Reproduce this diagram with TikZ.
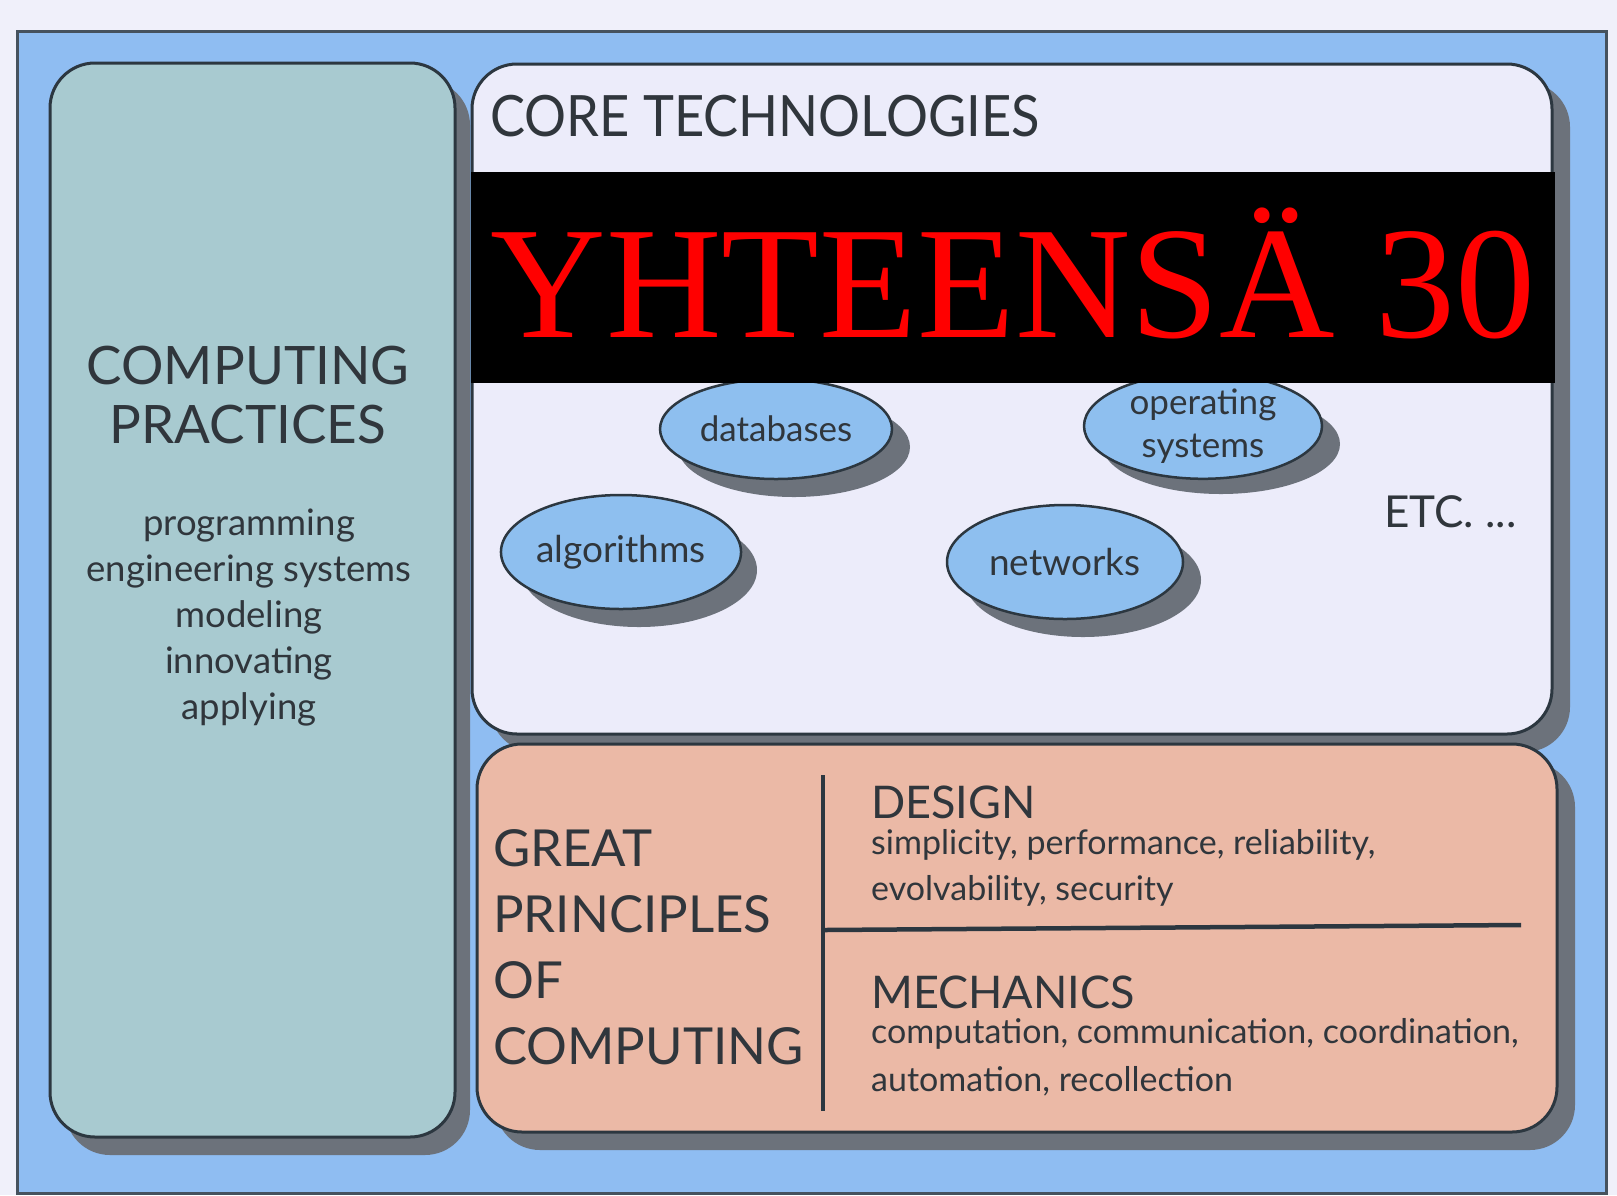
\documentclass[tikz,border=0pt]{standalone}
\usepackage{fontspec}
\setmainfont{Lato}
\newfontfamily\redserif{Liberation Serif}
\usetikzlibrary{shapes.geometric}
\definecolor{bgc}{HTML}{F0F0FA}
\definecolor{outerblue}{HTML}{8FBDF2}
\definecolor{outerline}{HTML}{46525E}
\definecolor{tealc}{HTML}{A8CAD0}
\definecolor{corec}{HTML}{ECECFA}
\definecolor{peachc}{HTML}{EBB9A6}
\definecolor{shadowc}{HTML}{6C727B}
\definecolor{edgec}{HTML}{2C3740}
\definecolor{txtc}{HTML}{30363C}
\definecolor{ellc}{HTML}{8EBFEF}
\tikzset{
  panel/.style={draw=edgec, line width=3pt, rounded corners=45pt},
  shadowpanel/.style={fill=shadowc, rounded corners=45pt},
  oval/.style={ellipse, draw=edgec, line width=2.5pt, fill=ellc, inner sep=0pt, text=txtc, font=\fontsize{37}{42}\selectfont, align=center},
  bigcap/.style={text=txtc, inner sep=0pt, font=\fontsize{53}{60}\selectfont},
  listtxt/.style={text=txtc, inner sep=0pt, font=\fontsize{36.5}{46}\selectfont},
  subtxt/.style={text=txtc, inner sep=0pt, font=\fontsize{34}{46}\selectfont},
  divline/.style={draw=edgec, line width=4.5pt}
}
\begin{document}
\begin{tikzpicture}[x=1pt,y=-1pt]
\fill[bgc] (0,0) rectangle (1617,1195);
\useasboundingbox (0,0) rectangle (1617,1195);
% outer frame
\draw[outerline, line width=3pt, fill=outerblue] (17,31) rectangle (1606,1193);
% left panel
\fill[shadowpanel] (65,80) rectangle (470,1155);
\draw[panel, fill=tealc] (50,63) rectangle (455,1137);
% core panel
\fill[shadowpanel] (490,82) rectangle (1570,752);
\draw[panel, fill=corec] (472,64) rectangle (1552,734);
% principles panel
\fill[shadowpanel] (495,762) rectangle (1575,1150);
\draw[panel, fill=peachc] (477,744) rectangle (1557,1132);

% left panel text
\node[bigcap, anchor=base] (cp1) at (248,384) {COMPUTING};
\node[bigcap, anchor=base] (cp2) at (248,443) {PRACTICES};
\node[listtxt, anchor=base] (l1) at (249,535) {programming};
\node[listtxt, anchor=base] (l2) at (249,581) {engineering systems};
\node[listtxt, anchor=base] (l3) at (249,627) {modeling};
\node[listtxt, anchor=base] (l4) at (249,673) {innovating};
\node[listtxt, anchor=base] (l5) at (249,719) {applying};

% core text
\node[text=txtc, inner sep=0pt, anchor=base west, xscale=0.92, font=\fontsize{57}{60}\selectfont] (core) at (490,136) {CORE TECHNOLOGIES};

% ellipse shadows
\fill[shadowc] (794,447) ellipse [x radius=116pt, y radius=50pt];
\fill[shadowc] (1221,444) ellipse [x radius=119pt, y radius=50pt];
\fill[shadowc] (639,570) ellipse [x radius=118pt, y radius=57pt];
\fill[shadowc] (1083,580) ellipse [x radius=118pt, y radius=57pt];
% ellipses
\node[oval, minimum width=232pt, minimum height=100pt, font=\fontsize{35}{40}\selectfont] (db) at (776,429) {databases};
\node[oval, minimum width=238pt, minimum height=100pt, font=\fontsize{35}{43}\selectfont] (os) at (1203,426) {operating\\systems};
\node[oval, minimum width=236pt, minimum height=114pt] (alg) at (621,552) {algorithms};
\node[oval, minimum width=236pt, minimum height=114pt] (net) at (1065,562) {networks};
\node[text=txtc, inner sep=0pt, anchor=base west, font=\fontsize{44}{48}\selectfont] (etc) at (1384,527) {ETC. ...};

% black banner
\fill[black] (471,172) rectangle (1555,383);
\node[text=red, inner sep=0pt, anchor=base, font=\redserif\fontsize{160}{160}\selectfont] (banner) at (1013,337) {YHTEENSÄ 30};

% principles
\node[bigcap, anchor=base west, font=\fontsize{51}{56}\selectfont] (g1) at (493,866) {GREAT};
\node[bigcap, anchor=base west, font=\fontsize{51}{56}\selectfont] (g2) at (493,932) {PRINCIPLES};
\node[bigcap, anchor=base west, font=\fontsize{51}{56}\selectfont] (g3) at (493,998) {OF};
\node[bigcap, anchor=base west, font=\fontsize{51}{56}\selectfont] (g4) at (493,1064) {COMPUTING};

\coordinate (vtop) at (823,775);
\coordinate (vbot) at (823,1111);
\coordinate (hl) at (825,930);
\coordinate (hr) at (1521,925);
\draw[divline] (vtop) -- (vbot);
\draw[divline] (hl) -- (hr);

\node[bigcap, anchor=base west, font=\fontsize{45}{50}\selectfont] (design) at (871,818) {DESIGN};
\node[subtxt, anchor=base west] (d1) at (871,854) {simplicity, performance, reliability,};
\node[subtxt, anchor=base west] (d2) at (871,900) {evolvability, security};
\node[bigcap, anchor=base west, font=\fontsize{45}{50}\selectfont] (mech) at (871,1008) {MECHANICS};
\node[subtxt, anchor=base west] (m1) at (871,1043) {computation, communication, coordination,};
\node[subtxt, anchor=base west] (m2) at (871,1091) {automation, recollection};
\end{tikzpicture}
\end{document}
